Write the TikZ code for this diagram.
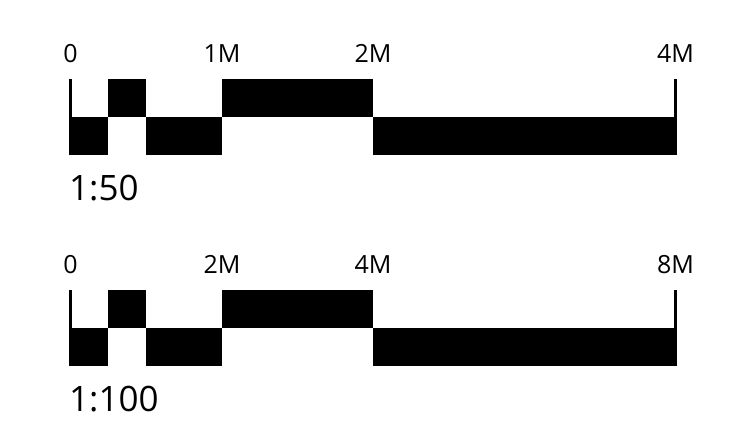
\documentclass[tikz,border=0pt]{standalone}
\usepackage{fontspec}
\setmainfont{Open Sans}
\begin{document}
\begin{tikzpicture}[x=1pt,y=-1pt]
\tikzset{tick/.style={anchor=base,inner sep=0pt,font=\fontsize{25}{30}\selectfont},
  ratio/.style={anchor=base west,inner sep=0pt,font=\fontsize{35}{42}\selectfont}}
\useasboundingbox (0,0) rectangle (732,429);
\foreach \dy/\i/\a/\b/\c/\s in {0/1/1M/2M/4M/1:50, 211/2/2M/4M/8M/1:100}
{
\begin{scope}[shift={(0,\dy)}]
\node[tick] (zero\i) at (70.5,62) {0};
\node[tick] (first\i) at (222,62) {\a};
\node[tick] (second\i) at (373,62) {\b};
\node[tick] (last\i) at (675.5,62) {\c};
% checkered bar
\fill (69,117) rectangle (108,155);
\fill (108,79) rectangle (146,117);
\fill (146,117) rectangle (222,155);
\fill (222,79) rectangle (373,117);
\fill (373,117) rectangle (677,155);
\draw[line width=3.5pt] (70.5,79)--(70.5,117);
\draw[line width=3.5pt] (675.5,79)--(675.5,155);
\node[ratio] (scale\i) at (69,200.5) {\s};
\end{scope}
}
\end{tikzpicture}
\end{document}
